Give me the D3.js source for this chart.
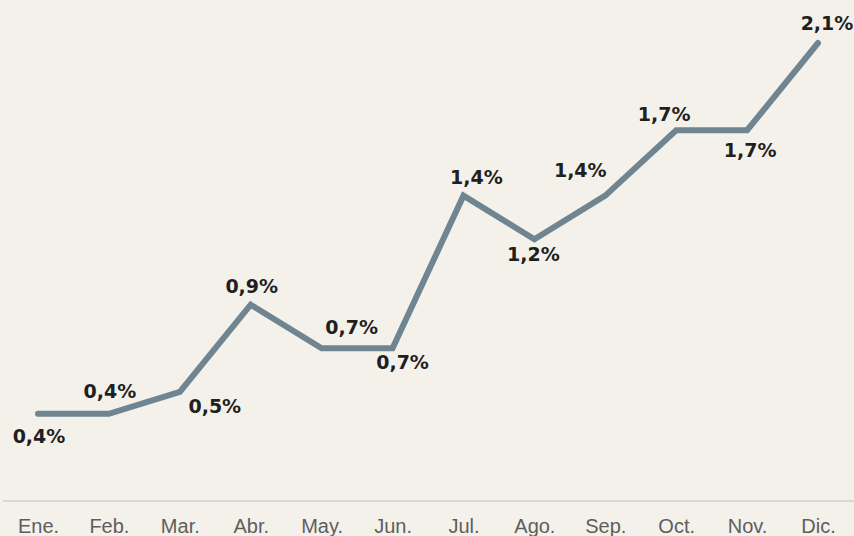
<!DOCTYPE html>
<html>
<head>
<meta charset="utf-8">
<script src="https://cdn.jsdelivr.net/npm/d3@7"></script>
<style>
body { margin: 0; background: #f4f1ea; }
svg { display: block; }
.lbl { font-family: "DejaVu Sans", sans-serif; font-weight: bold; font-size: 19px; fill: #1f1f1f; }
.tick text { font-family: "Liberation Sans", Arial, sans-serif; font-size: 20px; fill: #5e5e5e; }
</style>
</head>
<body>
<div id="chart"></div>
<script>
// data
var months = ['Ene.', 'Feb.', 'Mar.', 'Abr.', 'May.', 'Jun.', 'Jul.', 'Ago.', 'Sep.', 'Oct.', 'Nov.', 'Dic.'];
var values = [0.4, 0.4, 0.5, 0.9, 0.7, 0.7, 1.4, 1.2, 1.4, 1.7, 1.7, 2.1];
var labels = ['0,4%', '0,4%', '0,5%', '0,9%', '0,7%', '0,7%', '1,4%', '1,2%', '1,4%', '1,7%', '1,7%', '2,1%'];
// label placement: dx, dy relative to point
var labelPos = [[1, 29], [1, -16], [35, 21], [1, -12], [30, -14], [10, 21], [13, -12], [-1, 22], [-25, -19], [-12, -9], [3, 27], [9, -13]];

var width = 854, height = 536;

var svg = d3.select("#chart").append("svg")
	.attr("width", width)
	.attr("height", height);

svg.append("rect")
	.attr("width", width)
	.attr("height", height)
	.attr("fill", "#f4f1ea");

var x = d3.scalePoint()
	.domain(months)
	.range([38, 818]);

var y = d3.scaleLinear()
	.domain([0, 2.1])
	.range([501, 43]);

// baseline
svg.append("line")
	.attr("x1", 3)
	.attr("x2", width)
	.attr("y1", y(0))
	.attr("y2", y(0))
	.attr("stroke", "#d9d7d1")
	.attr("stroke-width", 2);

var xAxis = svg.append("g")
	.attr("transform", "translate(0," + y(0) + ")")
	.call(d3.axisBottom(x).tickSize(0).tickPadding(0));
xAxis.select(".domain").remove();
xAxis.selectAll(".tick text")
	.attr("y", 32)
	.attr("dy", 0)
	.attr("font-family", null)
	.attr("font-size", null);

var line = d3.line()
	.x(function(d, i) { return x(months[i]); })
	.y(function(d) { return y(d); });

svg.append("path")
	.attr("d", line(values))
	.attr("fill", "none")
	.attr("stroke", "#6f8591")
	.attr("stroke-width", 6)
	.attr("stroke-linecap", "round")
	.attr("stroke-linejoin", "miter");

svg.selectAll(".lbl")
	.data(values)
	.enter().append("text")
	.attr("class", "lbl")
	.attr("text-anchor", "middle")
	.attr("x", function(d, i) { return x(months[i]) + labelPos[i][0]; })
	.attr("y", function(d, i) { return y(d) + labelPos[i][1]; })
	.text(function(d, i) { return labels[i]; });
</script>
</body>
</html>
